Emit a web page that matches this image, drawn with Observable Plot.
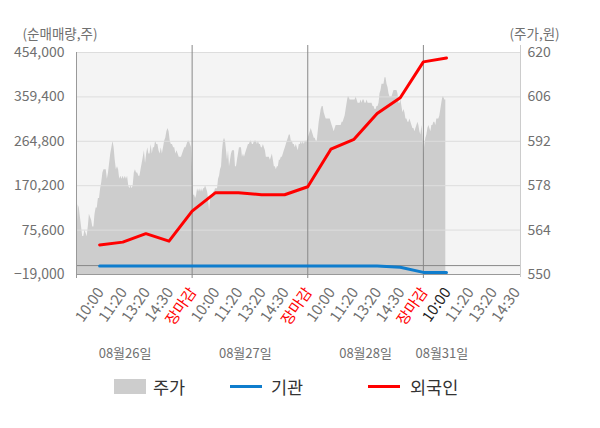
<!DOCTYPE html>
<html><head><meta charset="utf-8">
<script src="https://cdn.jsdelivr.net/npm/d3@7"></script>
<script src="https://cdn.jsdelivr.net/npm/@observablehq/plot@0.6"></script>
<style>
body{margin:0;background:#fff;font-family:"Noto Sans CJK KR","Noto Sans",sans-serif;}
#chart{position:relative;width:600px;height:428px;overflow:hidden;}
#chart svg{display:block;}
.legend{position:absolute;top:372px;left:0;width:600px;height:28px;font-size:17.5px;color:#333;}
.item{position:absolute;top:0;height:28px;display:flex;align-items:center;gap:7px;}
.sw-area{width:32px;height:15px;background:#cdcdcd;}
.sw-line{width:32px;height:3px;}
</style></head>
<body><div id="chart"></div>
<script>
// ---- data ----
const dates = ["08월26일", "08월27일", "08월28일", "08월31일"];
const dateLabelX = [2.1, 7.3, 12.5, 15.8];
const timeLabels = ["10:00", "11:20", "13:20", "14:30", "장마감"];
const leftTicks = [-19000, 75600, 170200, 264800, 359400, 454000];
const priceTicks = [550, 564, 578, 592, 606, 620];

// 순매매량 at each time slot (10:00 ... 장마감 per day)
const foreign = [44000, 50000, 68000, 52000, 116000, 155000, 155000, 151000, 151000, 168000, 248000, 269000, 324000, 357500, 434000, 442500];
const institution = [-1000, -1000, -1000, -1000, -1000, -1000, -1000, -1000, -1000, -1000, -1000, -1000, -1000, -3500, -14500, -14500];

// 주가 (intraday)
const price0826 = [563,572,571,568,565,562,562,564,563,562,565,569,568,567,565,565,569,571,571,574,574,577,579,582,583,583,583,580,582,585,588,590,592,590,586,583,584,583,580,581,580,581,580,581,580,581,578,577,578,577,578,582,583,582,582,581,581,583,585,587,589,585,588,590,588,588,591,588,590,590,592,591,591,589,588,590,588,590,592,593,595,596,595,592,591,591,590,590,588,589,588,587,587,587,588,589,590,590,591,592,592,591,590];
const price0827 = [583,575,575,574,575,577,576,577,576,577,576,577,577,578,577,576,574,570,574,575,575,576,576,577,577,577,580,581,583,584,589,592,593,592,589,586,589,584,586,588,589,589,589,584,584,586,588,590,590,590,587,588,587,588,589,590,591,591,592,592,591,591,592,592,592,591,592,591,591,590,590,591,590,589,587,587,587,587,586,587,588,586,584,584,583,584,584,586,586,587,587,588,589,590,591,592,593,594,594,592,592,591,591,590,591,590,589,591,591,592,591,592,591,592,592,592];
const price0828 = [593,594,595,596,595,594,593,593,592,592,595,598,600,602,603,603,601,600,599,599,599,599,599,598,597,596,595,596,597,597,597,597,597,597,598,598,599,600,602,604,606,606,605,605,605,605,605,605,606,605,604,604,604,605,604,605,605,604,604,605,604,604,604,604,604,603,603,602,602,603,603,604,607,608,610,610,610,612,612,610,609,607,606,606,606,607,608,608,608,608,607,604,604,605,603,601,602,601,599,599,598,598,599,598,597,596,596,595,596,597,598,597,595,594,597,594];
const price0831 = [588,591,593,594,596,597,596,595,597,597,598,598,597,599,599,599,600,602,604,606,606,605,605];

// ---- build tables ----
const SLOTS = 5;                 // time-label slots per day
const samplesPerDay = 116;       // intraday sampling of a full day
const yMin = leftTicks[0], yMax = leftTicks[leftTicks.length - 1];
const pMin = priceTicks[0], pMax = priceTicks[priceTicks.length - 1];
const toLeft = p => yMin + (p - pMin) * (yMax - yMin) / (pMax - pMin);
const toPrice = v => Math.round(pMin + (v - yMin) * (pMax - pMin) / (yMax - yMin));

const priceDays = [price0826, price0827, price0828, price0831];
const priceRows = [];
priceDays.forEach((arr, d) => {
  const n = d < 3 ? arr.length : samplesPerDay;
  arr.forEach((p, i) => priceRows.push({x: d * SLOTS + (i + 0.5) * SLOTS / n, v: toLeft(p)}));
});
const flowRows = foreign.map((f, i) => ({x: i + 1, foreign: f, inst: institution[i]}));

const xMax = 19.2;
const tickRows = [];
dates.forEach((_, d) => timeLabels.forEach((t, j) => {
  const pos = d * SLOTS + j + 1;
  if (pos <= xMax) tickRows.push({pos, label: t, kind: t === "장마감" ? "close" : (pos === foreign.length ? "now" : "time")});
}));
const dateRows = dates.map((t, i) => ({x: dateLabelX[i], t}));

const labelStyle = {frameAnchor: "bottom", lineAnchor: "middle", rotate: -55, textAnchor: "end", dx: 1, dy: 15, fontSize: 15};

const chart = Plot.plot({
  width: 600, height: 366,
  marginTop: 52, marginLeft: 76, marginRight: 80, marginBottom: 92,
  style: {fontFamily: '"Noto Sans CJK KR", "Noto Sans", sans-serif', fontSize: "14px", background: "transparent"},
  x: {domain: [0, xMax], axis: null},
  y: {domain: [yMin, yMax], axis: null},
  marks: [
    Plot.frame({fill: "#f4f4f4", stroke: null}),
    Plot.areaY(priceRows, {x: "x", y1: yMin, y2: "v", fill: "#cdcdcd"}),
    Plot.gridY(leftTicks, {stroke: "#dddddd", strokeOpacity: 1}),
    Plot.ruleY([0], {stroke: "#888888"}),
    Plot.ruleY([yMin], {stroke: "#999999"}),
    Plot.ruleX([xMax], {stroke: "#cccccc", insetTop: -7, insetBottom: -3}),
    Plot.ruleX([0], {stroke: "#999999", insetBottom: -4}),
    Plot.ruleX([SLOTS, 2 * SLOTS, 3 * SLOTS], {stroke: "#888888", insetTop: -7, insetBottom: -4}),
    Plot.axisY(leftTicks, {anchor: "left", tickSize: 0, tickPadding: 12, tickFormat: d3.format(","), fill: "#707070", fontSize: 14, label: null}),
    Plot.axisY(priceTicks.map(toLeft), {anchor: "right", tickSize: 0, tickPadding: 7, tickFormat: toPrice, fill: "#707070", fontSize: 14, label: null}),
    Plot.line(flowRows, {x: "x", y: "inst", stroke: "#0f7dcd", strokeWidth: 3}),
    Plot.line(flowRows, {x: "x", y: "foreign", stroke: "#ff0000", strokeWidth: 3}),
    Plot.text(tickRows.filter(d => d.kind === "time"), {x: "pos", text: "label", fill: "#707070", ...labelStyle}),
    Plot.text(tickRows.filter(d => d.kind === "close"), {x: "pos", text: "label", fill: "#ff0000", ...labelStyle}),
    Plot.text(tickRows.filter(d => d.kind === "now"), {x: "pos", text: "label", fill: "#222222", ...labelStyle}),
    Plot.text(dateRows, {x: "x", text: "t", frameAnchor: "bottom", lineAnchor: "middle", dy: 79, fill: "#707070", fontSize: 13}),
    Plot.text(["(순매매량,주)"], {frameAnchor: "top-left", lineAnchor: "middle", textAnchor: "start", dx: -54, dy: -18, fill: "#707070", fontSize: 13.5}),
    Plot.text(["(주가,원)"], {frameAnchor: "top-right", lineAnchor: "middle", textAnchor: "start", dx: -11, dy: -18, fill: "#707070", fontSize: 13.5})
  ]
});
const root = document.getElementById("chart");
root.appendChild(chart);

const legend = document.createElement("div");
legend.className = "legend";
legend.innerHTML = `
  <div class="item" style="left:114px"><span class="sw-area"></span><span>주가</span></div>
  <div class="item" style="left:230px"><span class="sw-line" style="background:#0f7dcd"></span><span style="margin-left:2px">기관</span></div>
  <div class="item" style="left:368px"><span class="sw-line" style="background:#ff0000"></span><span style="margin-left:3px">외국인</span></div>`;
root.appendChild(legend);
</script>
</body></html>
